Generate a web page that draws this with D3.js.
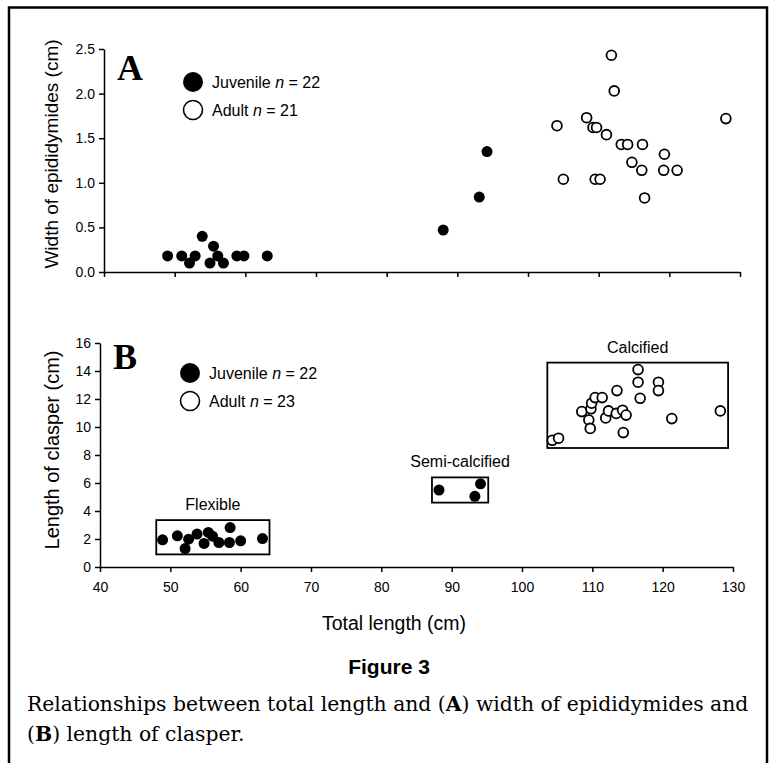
<!DOCTYPE html>
<html><head><meta charset="utf-8">
<script src="https://cdn.jsdelivr.net/npm/d3@7"></script>
<style>body{margin:0;background:#fff}</style></head>
<body>
<svg id="c" width="776" height="763"></svg>
<script>
// ---- data ----
const xTicks = [40, 50, 60, 70, 80, 90, 100, 110, 120, 130];
const yTicksA = [0, 0.5, 1.0, 1.5, 2.0, 2.5];
const yTicksB = [0, 2, 4, 6, 8, 10, 12, 14, 16];

// Panel A: total length (cm), width of epididymides (cm)
const juvenileA = [
  [49.0, 0.18], [51.0, 0.18], [52.1, 0.10], [52.9, 0.18], [53.9, 0.40],
  [55.0, 0.10], [55.5, 0.29], [56.1, 0.18], [56.9, 0.10], [58.8, 0.18],
  [59.8, 0.18], [63.1, 0.18], [88.0, 0.47], [93.1, 0.84], [94.2, 1.35]
];
const adultA = [
  [104.1, 1.64], [105.0, 1.04], [108.3, 1.73], [109.2, 1.62], [109.7, 1.62],
  [109.5, 1.04], [110.2, 1.04], [111.1, 1.54], [111.8, 2.43], [112.2, 2.03],
  [113.2, 1.43], [114.1, 1.43], [114.7, 1.23], [116.2, 1.43], [116.1, 1.14],
  [116.5, 0.83], [119.3, 1.32], [119.2, 1.14], [121.1, 1.14], [128.0, 1.72]
];

// Panel B: total length (cm), length of clasper (cm)
const juvenileB = [
  [48.9, 1.94], [51.0, 2.23], [52.1, 1.32], [52.6, 1.99], [53.8, 2.35],
  [54.8, 1.68], [55.4, 2.47], [56.0, 2.20], [56.9, 1.75], [58.5, 2.82],
  [58.4, 1.75], [60.0, 1.87], [63.1, 2.03],
  [88.2, 5.50], [93.3, 5.05], [94.1, 5.94]
];
const adultB = [
  [104.3, 9.05], [105.2, 9.2], [108.5, 11.1], [109.5, 10.5], [109.7, 9.9],
  [109.8, 11.3], [109.9, 11.7], [110.4, 12.1], [111.4, 12.1], [111.9, 10.65],
  [112.3, 11.15], [113.5, 12.6], [113.4, 10.97], [114.3, 11.2], [114.4, 9.6],
  [114.8, 10.85], [116.5, 14.1], [116.5, 13.2], [116.8, 12.05], [119.4, 13.2],
  [119.4, 12.6], [121.3, 10.6], [128.2, 11.15]
];
// maturity groups
const groupNames = ["Flexible", "Semi-calcified", "Calcified"];
const groupX = [[48.0, 64.1], [87.2, 95.2], [103.6, 129.3]];
const groupY = [[0.9, 3.35], [4.6, 6.4], [8.5, 14.6]];

const legendA = ["Juvenile", "22", "Adult", "21"];
const legendB = ["Juvenile", "22", "Adult", "23"];

// ---- drawing ----
const svg = d3.select("#c");
const SANS = "'Liberation Sans', Arial, Helvetica, sans-serif";
const SERIF = "'Liberation Serif', 'Times New Roman', serif";

svg.append("rect").attr("x", 9).attr("y", 7.5).attr("width", 758).attr("height", 800)
  .attr("fill", "none").attr("stroke", "#000").attr("stroke-width", 2.5);

function panel(cfg) {
  const g = svg.append("g");
  const x = d3.scaleLinear([40, 130], cfg.xr);
  const y = d3.scaleLinear(cfg.ydom, cfg.yr);

  const ya = g.append("g").attr("transform", `translate(${cfg.xr[0]},0)`)
    .call(d3.axisLeft(y).tickValues(cfg.yTicks).tickFormat(cfg.yFmt)
      .tickSize(5).tickSizeOuter(0).tickPadding(4));
  const xa = g.append("g").attr("transform", `translate(0,${cfg.yr[0]})`)
    .call(d3.axisBottom(x).tickValues(xTicks).tickFormat(cfg.xLabels ? d3.format("d") : "")
      .tickSize(5).tickSizeOuter(0).tickPadding(10));
  [ya, xa].forEach(a => {
    a.selectAll("path,line").attr("stroke", "#000").attr("stroke-width", 1.5);
    a.selectAll("text").attr("font-family", SANS).attr("font-size", 14).attr("fill", "#000");
  });

  if (cfg.groups) {
    groupNames.forEach((n, i) => {
      const x0 = x(groupX[i][0]), x1 = x(groupX[i][1]);
      const y0 = y(groupY[i][1]), y1 = y(groupY[i][0]);
      g.append("rect").attr("x", x0).attr("y", y0).attr("width", x1 - x0).attr("height", y1 - y0)
        .attr("fill", "none").attr("stroke", "#000").attr("stroke-width", 1.8);
      g.append("text").attr("x", (x0 + x1) / 2).attr("y", y0 - 10).attr("text-anchor", "middle")
        .attr("font-family", SANS).attr("font-size", 16).text(n);
    });
  }

  g.selectAll("circle.j").data(cfg.juv).join("circle").attr("class", "j")
    .attr("cx", d => x(d[0])).attr("cy", d => y(d[1])).attr("r", 5.5).attr("fill", "#000");
  g.selectAll("circle.a").data(cfg.adu).join("circle").attr("class", "a")
    .attr("cx", d => x(d[0])).attr("cy", d => y(d[1])).attr("r", 4.9)
    .attr("fill", "#fff").attr("stroke", "#000").attr("stroke-width", 1.8);

  g.append("text").attr("x", cfg.xr[0] + 13).attr("y", cfg.letterY)
    .attr("font-family", SERIF).attr("font-weight", "bold").attr("font-size", 36).text(cfg.letter);

  const L = cfg.legend;
  const lx = cfg.legX, ly = cfg.legY;
  g.append("circle").attr("cx", lx).attr("cy", ly).attr("r", 10).attr("fill", "#000");
  g.append("circle").attr("cx", lx).attr("cy", ly + 28).attr("r", 9.5)
    .attr("fill", "#fff").attr("stroke", "#000").attr("stroke-width", 1.6);
  [[0, ly], [2, ly + 28]].forEach(([k, yy]) => {
    const t = g.append("text").attr("x", lx + 19).attr("y", yy + 6)
      .attr("font-family", SANS).attr("font-size", 16);
    t.append("tspan").text(L[k] + " ");
    t.append("tspan").attr("font-style", "italic").text("n");
    t.append("tspan").text(" = " + L[k + 1]);
  });

  g.append("text").attr("transform", `translate(${cfg.yTitleX},${cfg.yTitleY}) rotate(-90)`)
    .attr("text-anchor", "middle").attr("font-family", SANS).attr("font-size", cfg.yTitleSize)
    .text(cfg.yTitle);
  return {x, y};
}

panel({xr: [104, 740], ydom: [0, 2.5], yr: [272, 49], yTicks: yTicksA, yFmt: d3.format(".1f"),
  xLabels: false, juv: juvenileA, adu: adultA, letter: "A", letterY: 80,
  legend: legendA, legX: 193, legY: 82, yTitle: "Width of epididymides (cm)",
  yTitleX: 58, yTitleY: 154, yTitleSize: 19});
panel({xr: [100, 733], ydom: [0, 16], yr: [567, 343], yTicks: yTicksB, yFmt: d3.format("d"),
  xLabels: true, groups: true, juv: juvenileB, adu: adultB, letter: "B", letterY: 369,
  legend: legendB, legX: 190, legY: 373, yTitle: "Length of clasper (cm)",
  yTitleX: 59, yTitleY: 450, yTitleSize: 20});

svg.append("text").attr("x", 394).attr("y", 630).attr("text-anchor", "middle")
  .attr("font-family", SANS).attr("font-size", 19.5).text("Total length (cm)");

svg.append("text").attr("x", 389).attr("y", 674).attr("text-anchor", "middle")
  .attr("font-family", SANS).attr("font-weight", "bold").attr("font-size", 21).text("Figure 3");
const CAPF = "'DejaVu Serif', serif";
const l1 = svg.append("text").attr("x", 27).attr("y", 711).attr("font-family", CAPF).attr("font-size", 20);
l1.append("tspan").text("Relationships between total length and (");
l1.append("tspan").attr("font-weight", "bold").text("A");
l1.append("tspan").text(") width of epididymides and");
const l2 = svg.append("text").attr("x", 27).attr("y", 741).attr("font-family", CAPF).attr("font-size", 20);
l2.append("tspan").text("(");
l2.append("tspan").attr("font-weight", "bold").text("B");
l2.append("tspan").text(") length of clasper.");
const len = l1.node().getComputedTextLength();
const fs = 20 * 722 / len;
l1.attr("font-size", fs); l2.attr("font-size", fs);
</script>
</body></html>
